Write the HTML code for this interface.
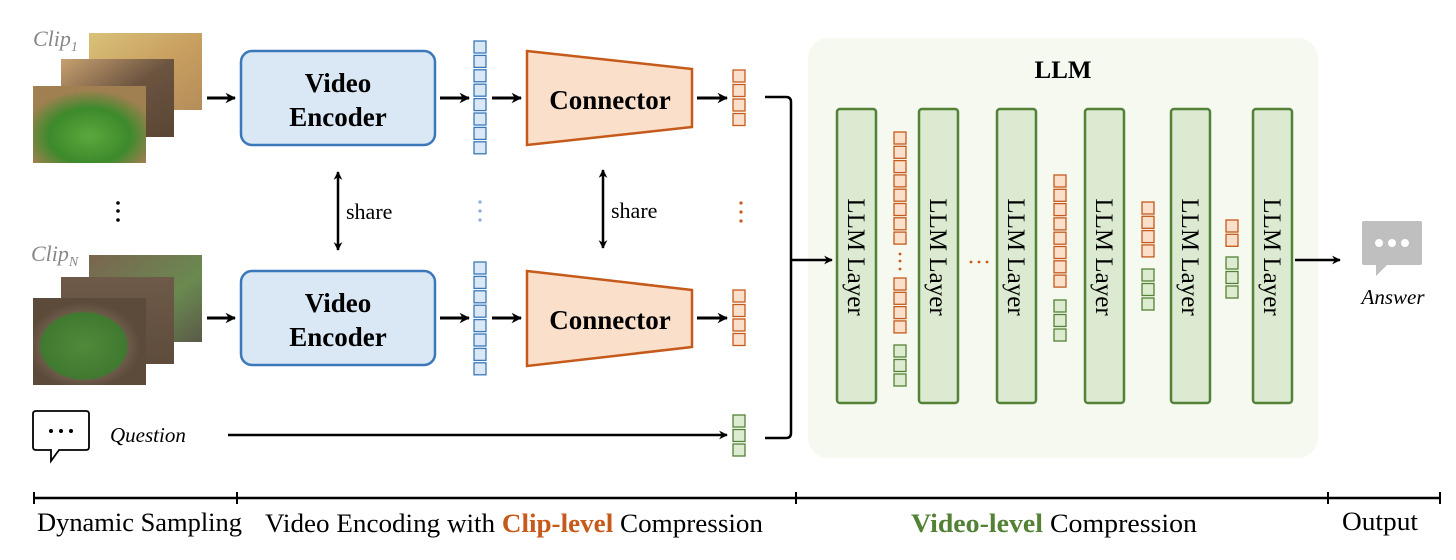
<!DOCTYPE html>
<html><head><meta charset="utf-8"><style>
html,body{margin:0;padding:0;background:#fff;}
svg{display:block;}
text{font-family:"Liberation Serif",serif;}
</style></head><body>
<svg width="1456" height="560" viewBox="0 0 1456 560" xmlns="http://www.w3.org/2000/svg">
<defs>
<marker id="ah" viewBox="0 0 10 10" refX="9" refY="5" markerWidth="3.5" markerHeight="3.5" orient="auto-start-reverse"><path d="M0,0 L10,5 L0,10 L3,5 z" fill="#000"/></marker>
<linearGradient id="g1" x1="0" y1="0" x2="1" y2="1"><stop offset="0" stop-color="#d9c27a"/><stop offset="0.5" stop-color="#c9a060"/><stop offset="1" stop-color="#b58d5a"/></linearGradient>
<linearGradient id="g2" x1="0" y1="0" x2="1" y2="1"><stop offset="0" stop-color="#c8a070"/><stop offset="0.5" stop-color="#6b5440"/><stop offset="1" stop-color="#5a4534"/></linearGradient>
<radialGradient id="g3" cx="0.5" cy="0.65" r="0.6"><stop offset="0" stop-color="#5aa83c"/><stop offset="0.6" stop-color="#3d8a2c"/><stop offset="1" stop-color="#a08050"/></radialGradient>
<linearGradient id="g4" x1="0" y1="0" x2="1" y2="1"><stop offset="0" stop-color="#7a6450"/><stop offset="0.6" stop-color="#6a8a50"/><stop offset="1" stop-color="#5a5a48"/></linearGradient>
<linearGradient id="g5" x1="0" y1="0" x2="0" y2="1"><stop offset="0" stop-color="#6e5a48"/><stop offset="1" stop-color="#5e4c3c"/></linearGradient>
<radialGradient id="g6" cx="0.45" cy="0.55" r="0.5"><stop offset="0" stop-color="#4f8a3a"/><stop offset="0.75" stop-color="#3f7a30"/><stop offset="0.8" stop-color="#6b5a48"/><stop offset="1" stop-color="#5c4a3a"/></radialGradient>
</defs>

<text x="33" y="46" font-size="22" font-style="italic" fill="#888">Clip<tspan font-size="14" dy="5">1</tspan></text>
<rect x="89" y="33" width="113" height="77" fill="url(#g1)"/>
<rect x="61" y="59" width="113" height="78" fill="url(#g2)"/>
<rect x="33" y="86" width="113" height="77" fill="url(#g3)"/>
<text x="31" y="261" font-size="22" font-style="italic" fill="#888">Clip<tspan font-size="14" dy="5">N</tspan></text>
<rect x="89" y="255" width="113" height="87" fill="url(#g4)"/>
<rect x="61" y="277" width="113" height="87" fill="url(#g5)"/>
<rect x="33" y="298" width="113" height="87" fill="url(#g6)"/>

<circle cx="118" cy="203" r="1.8"/><circle cx="118" cy="211" r="1.8"/><circle cx="118" cy="220" r="1.8"/>

<g stroke="#000" stroke-width="3" fill="none" marker-end="url(#ah)">
<line x1="207" y1="98" x2="235" y2="98"/>
<line x1="207" y1="318" x2="235" y2="318"/>
<line x1="440" y1="98" x2="469" y2="98"/>
<line x1="440" y1="318" x2="469" y2="318"/>
<line x1="492" y1="98" x2="521" y2="98"/>
<line x1="492" y1="318" x2="521" y2="318"/>
<line x1="697" y1="98" x2="727" y2="98"/>
<line x1="697" y1="318" x2="727" y2="318"/>
</g>
<g stroke="#000" stroke-width="2.5" fill="none" marker-end="url(#ah)" marker-start="url(#ah)">
<line x1="338" y1="172" x2="338" y2="250"/>
<line x1="603" y1="170" x2="603" y2="248"/>
</g>
<text x="346" y="219" font-size="22">share</text>
<text x="611" y="218" font-size="22">share</text>

<rect x="241" y="51" width="194" height="94" rx="11" fill="#dae7f5" stroke="#3a78b9" stroke-width="2.5"/>
<text x="338" y="92" font-size="27" font-weight="bold" text-anchor="middle">Video</text>
<text x="338" y="126" font-size="27" font-weight="bold" text-anchor="middle">Encoder</text>
<rect x="241" y="271" width="194" height="94" rx="11" fill="#dae7f5" stroke="#3a78b9" stroke-width="2.5"/>
<text x="338" y="312" font-size="27" font-weight="bold" text-anchor="middle">Video</text>
<text x="338" y="346" font-size="27" font-weight="bold" text-anchor="middle">Encoder</text>

<g fill="#dae7f5" stroke="#3a78b9" stroke-width="1.3">
<rect x="474" y="41" width="12" height="12"/><rect x="474" y="55.4" width="12" height="12"/><rect x="474" y="69.8" width="12" height="12"/><rect x="474" y="84.2" width="12" height="12"/><rect x="474" y="98.6" width="12" height="12"/><rect x="474" y="113" width="12" height="12"/><rect x="474" y="127.4" width="12" height="12"/><rect x="474" y="141.8" width="12" height="12"/>
<rect x="474" y="262" width="12" height="12"/><rect x="474" y="276.4" width="12" height="12"/><rect x="474" y="290.8" width="12" height="12"/><rect x="474" y="305.2" width="12" height="12"/><rect x="474" y="319.6" width="12" height="12"/><rect x="474" y="334" width="12" height="12"/><rect x="474" y="348.4" width="12" height="12"/><rect x="474" y="362.8" width="12" height="12"/>
</g>
<g fill="#8fa8d8"><circle cx="480" cy="202" r="1.6"/><circle cx="480" cy="211" r="1.6"/><circle cx="480" cy="220" r="1.6"/></g>

<polygon points="527,51 692,69 692,127 527,145" fill="#fadfcb" stroke="#c55a1a" stroke-width="2.5"/>
<text x="610" y="109" font-size="27" font-weight="bold" text-anchor="middle">Connector</text>
<polygon points="527,271 692,290 692,347 527,366" fill="#fadfcb" stroke="#c55a1a" stroke-width="2.5"/>
<text x="610" y="329" font-size="27" font-weight="bold" text-anchor="middle">Connector</text>

<g fill="#fadfcb" stroke="#c55a1a" stroke-width="1.3">
<rect x="733" y="70" width="12" height="12"/><rect x="733" y="84.5" width="12" height="12"/><rect x="733" y="99" width="12" height="12"/><rect x="733" y="113.5" width="12" height="12"/>
<rect x="733" y="290" width="12" height="12"/><rect x="733" y="304.5" width="12" height="12"/><rect x="733" y="319" width="12" height="12"/><rect x="733" y="333.5" width="12" height="12"/>
</g>
<g fill="#c55a1a"><circle cx="741" cy="203" r="1.6"/><circle cx="741" cy="212" r="1.6"/><circle cx="741" cy="221" r="1.6"/></g>

<path d="M36,411 H86 Q89,411 89,414 V447 Q89,450 86,450 H59 L51,461 L51,450 H36 Q33,450 33,447 V414 Q33,411 36,411 Z" fill="#fff" stroke="#000" stroke-width="1.8"/>
<circle cx="51" cy="431" r="2"/><circle cx="61" cy="431" r="2"/><circle cx="71" cy="431" r="2"/>
<text x="110" y="442" font-size="21" font-style="italic">Question</text>
<line x1="228" y1="435" x2="727" y2="435" stroke="#000" stroke-width="2.5" marker-end="url(#ah)"/>
<g fill="#ddebd0" stroke="#538135" stroke-width="1.3">
<rect x="733" y="415" width="12" height="12"/><rect x="733" y="429.5" width="12" height="12"/><rect x="733" y="444" width="12" height="12"/>
</g>

<path d="M765,97 H786 Q791,97 791,102 V433 Q791,438 786,438 H765" fill="none" stroke="#000" stroke-width="2.5"/>

<rect x="808" y="38" width="510" height="420" rx="20" fill="#f6f9f0"/>
<line x1="791" y1="260" x2="832" y2="260" stroke="#000" stroke-width="2.5" marker-end="url(#ah)"/>
<text x="1063" y="78" font-size="25" font-weight="bold" text-anchor="middle">LLM</text>

<g fill="#dbead0" stroke="#538135" stroke-width="2.5">
<rect x="837" y="109" width="39" height="294" rx="3"/>
<rect x="919" y="109" width="39" height="294" rx="3"/>
<rect x="997" y="109" width="39" height="294" rx="3"/>
<rect x="1085" y="109" width="39" height="294" rx="3"/>
<rect x="1171" y="109" width="39" height="294" rx="3"/>
<rect x="1253" y="109" width="39" height="294" rx="3"/>
</g>
<g font-size="25">
<text transform="translate(848,257) rotate(90)" text-anchor="middle">LLM Layer</text>
<text transform="translate(930,257) rotate(90)" text-anchor="middle">LLM Layer</text>
<text transform="translate(1008,257) rotate(90)" text-anchor="middle">LLM Layer</text>
<text transform="translate(1096,257) rotate(90)" text-anchor="middle">LLM Layer</text>
<text transform="translate(1182,257) rotate(90)" text-anchor="middle">LLM Layer</text>
<text transform="translate(1264,257) rotate(90)" text-anchor="middle">LLM Layer</text>
</g>

<g fill="#fadfcb" stroke="#c55a1a" stroke-width="1.3">
<rect x="894" y="132" width="12" height="12"/><rect x="894" y="146.3" width="12" height="12"/><rect x="894" y="160.6" width="12" height="12"/><rect x="894" y="174.9" width="12" height="12"/><rect x="894" y="189.2" width="12" height="12"/><rect x="894" y="203.5" width="12" height="12"/><rect x="894" y="217.8" width="12" height="12"/><rect x="894" y="232.1" width="12" height="12"/>
<rect x="894" y="278" width="12" height="12"/><rect x="894" y="292.3" width="12" height="12"/><rect x="894" y="306.6" width="12" height="12"/><rect x="894" y="320.9" width="12" height="12"/>
<rect x="1054" y="175" width="12" height="12"/><rect x="1054" y="189.3" width="12" height="12"/><rect x="1054" y="203.6" width="12" height="12"/><rect x="1054" y="217.9" width="12" height="12"/><rect x="1054" y="232.2" width="12" height="12"/><rect x="1054" y="246.5" width="12" height="12"/><rect x="1054" y="260.8" width="12" height="12"/><rect x="1054" y="275.1" width="12" height="12"/>
<rect x="1142" y="202" width="12" height="12"/><rect x="1142" y="216.3" width="12" height="12"/><rect x="1142" y="230.6" width="12" height="12"/><rect x="1142" y="244.9" width="12" height="12"/>
<rect x="1226" y="220" width="12" height="12"/><rect x="1226" y="234.3" width="12" height="12"/>
</g>
<g fill="#ddebd0" stroke="#538135" stroke-width="1.3">
<rect x="894" y="345" width="12" height="12"/><rect x="894" y="359.5" width="12" height="12"/><rect x="894" y="374" width="12" height="12"/>
<rect x="1054" y="300" width="12" height="12"/><rect x="1054" y="314.5" width="12" height="12"/><rect x="1054" y="329" width="12" height="12"/>
<rect x="1142" y="269" width="12" height="12"/><rect x="1142" y="283.5" width="12" height="12"/><rect x="1142" y="298" width="12" height="12"/>
<rect x="1226" y="257" width="12" height="12"/><rect x="1226" y="271.5" width="12" height="12"/><rect x="1226" y="286" width="12" height="12"/>
</g>
<g fill="#c55a1a">
<circle cx="900" cy="254" r="1.4"/><circle cx="900" cy="261" r="1.4"/><circle cx="900" cy="269" r="1.4"/>
<circle cx="971" cy="262" r="1.4"/><circle cx="979" cy="262" r="1.4"/><circle cx="987" cy="262" r="1.4"/>
</g>

<line x1="1295" y1="260" x2="1340" y2="260" stroke="#000" stroke-width="2.5" marker-end="url(#ah)"/>
<path d="M1364,221 H1420 Q1422,221 1422,223 V263 Q1422,265 1420,265 H1387 L1376,276 L1376,265 H1364 Q1362,265 1362,263 V223 Q1362,221 1364,221 Z" fill="#bfbfbf"/>
<circle cx="1379" cy="243" r="4" fill="#fff"/><circle cx="1392" cy="243" r="4" fill="#fff"/><circle cx="1405" cy="243" r="4" fill="#fff"/>
<text x="1393" y="304" font-size="21" font-style="italic" text-anchor="middle">Answer</text>

<line x1="33" y1="498" x2="1441" y2="498" stroke="#000" stroke-width="2.5"/>
<g stroke="#000" stroke-width="2"><line x1="34" y1="492" x2="34" y2="504"/><line x1="237" y1="492" x2="237" y2="504"/><line x1="796" y1="492" x2="796" y2="504"/><line x1="1328" y1="492" x2="1328" y2="504"/><line x1="1440" y1="492" x2="1440" y2="504"/></g>
<g font-size="26">
<text x="37" y="531" textLength="205" lengthAdjust="spacingAndGlyphs">Dynamic Sampling</text>
<text x="265" y="532" textLength="498" lengthAdjust="spacingAndGlyphs">Video Encoding with <tspan fill="#c55a1a" font-weight="bold">Clip-level</tspan> Compression</text>
<text x="911" y="532" textLength="286" lengthAdjust="spacingAndGlyphs"><tspan fill="#538135" font-weight="bold">Video-level</tspan> Compression</text>
<text x="1342" y="530" textLength="76" lengthAdjust="spacingAndGlyphs">Output</text>
</g>
</svg>
</body></html>
